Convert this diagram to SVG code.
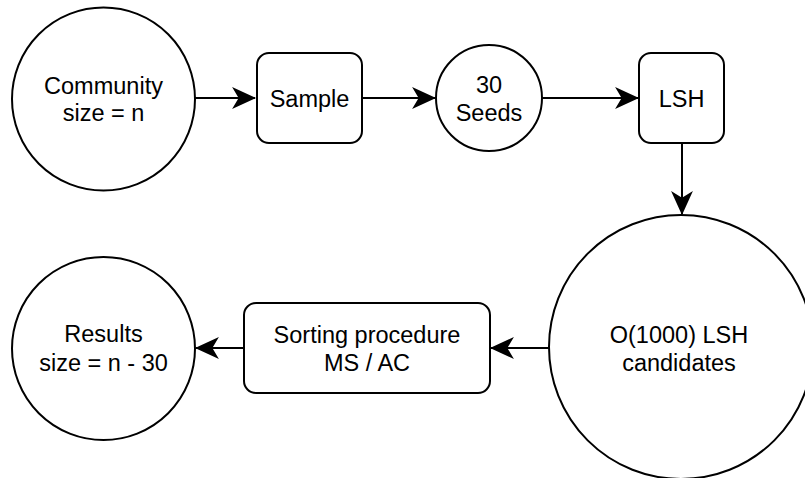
<svg xmlns="http://www.w3.org/2000/svg" width="805" height="478" viewBox="0 0 805 478">
  <style>
    .shape { fill: #ffffff; stroke: #000000; stroke-width: 2; }
    .edge { fill: none; stroke: #000000; stroke-width: 2; }
    .label { font-family: "Liberation Sans", Arial, Helvetica, sans-serif; font-size: 23.5px; fill: #000000; text-anchor: middle; }
  </style>
  <defs>
    <marker id="arrow" markerUnits="userSpaceOnUse" markerWidth="24" markerHeight="22" viewBox="0 0 22 20" refX="21" refY="10" orient="auto">
      <path d="M0,0 L22,10 L0,20 L6,10 Z" fill="#000000"/>
    </marker>
  </defs>
  <rect width="805" height="478" fill="#ffffff"/>

  <g id="connectors">
    <line class="edge" x1="195" y1="98" x2="255" y2="98" stroke-width="3" marker-end="url(#arrow)"/>
    <line class="edge" x1="362" y1="98" x2="435" y2="98" marker-end="url(#arrow)"/>
    <line class="edge" x1="542" y1="98" x2="638" y2="98" marker-end="url(#arrow)"/>
    <line class="edge" x1="682" y1="144" x2="682" y2="214" marker-end="url(#arrow)"/>
    <line class="edge" x1="549" y1="348" x2="491" y2="348" marker-end="url(#arrow)"/>
    <line class="edge" x1="244" y1="348" x2="196" y2="348" marker-end="url(#arrow)"/>
  </g>

  <g id="community">
    <circle class="shape" cx="103.5" cy="99" r="91.5"/>
    <text class="label" x="103.5" y="94">Community</text>
    <text class="label" x="103.5" y="121">size = n</text>
  </g>

  <g id="sample">
    <rect class="shape" x="257" y="53" width="105" height="90" rx="12" ry="12"/>
    <text class="label" x="309.5" y="106.5">Sample</text>
  </g>

  <g id="seeds">
    <circle class="shape" cx="489" cy="98" r="53"/>
    <text class="label" x="489" y="92.5">30</text>
    <text class="label" x="489" y="121">Seeds</text>
  </g>

  <g id="lsh">
    <rect class="shape" x="639" y="53" width="85" height="90" rx="12" ry="12"/>
    <text class="label" x="681.5" y="106.5">LSH</text>
  </g>

  <g id="candidates">
    <circle class="shape" cx="681" cy="347" r="132"/>
    <text class="label" x="679" y="342.5">O(1000) LSH</text>
    <text class="label" x="679" y="370.5">candidates</text>
  </g>

  <g id="sorting">
    <rect class="shape" x="244" y="303" width="246" height="90" rx="12" ry="12"/>
    <text class="label" x="367" y="342.5">Sorting procedure</text>
    <text class="label" x="367" y="370.5">MS / AC</text>
  </g>

  <g id="results">
    <circle class="shape" cx="103.5" cy="348.5" r="91.5"/>
    <text class="label" x="103.5" y="341.5">Results</text>
    <text class="label" x="103.5" y="370.5">size = n - 30</text>
  </g>
</svg>
